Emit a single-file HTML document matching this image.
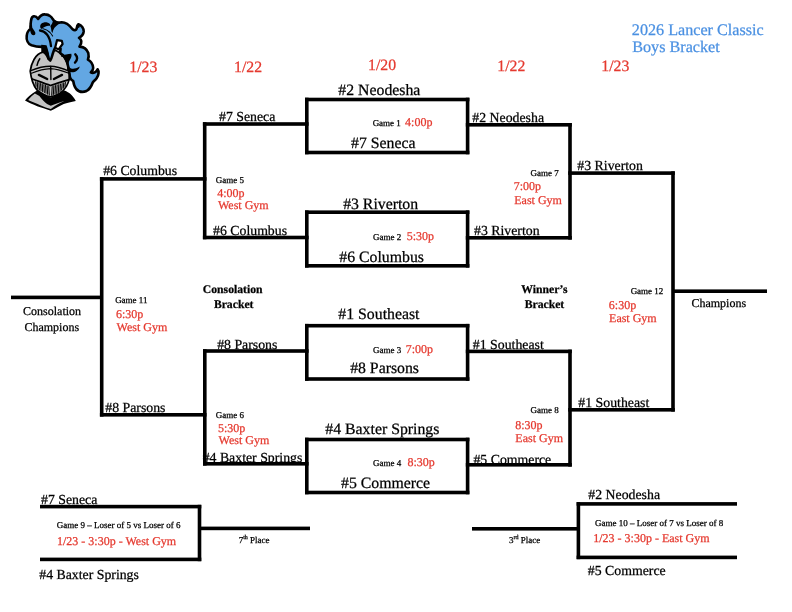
<!DOCTYPE html>
<html><head><meta charset="utf-8"><style>
html,body{margin:0;padding:0;background:#fff;width:792px;height:612px;overflow:hidden}
svg{position:absolute;left:0;top:0;display:block}
text{font-family:"Liberation Serif",serif;text-rendering:geometricPrecision}
svg{will-change:transform}
</style></head><body>
<svg width="792" height="612" viewBox="0 0 792 612">
<g id="logo" stroke-linejoin="round" stroke-linecap="round">
<path d="M25,100.5 C27,98 31,94 35,91.8 L37.9,90.2 C42,93 46,96 50.8,97.5 C55,96 60,92.5 64.4,90.6 C67,91.5 69,93 70.5,94.1 C72.5,96 74.5,98.5 75.8,100.9 C71,102 67,102.8 63.7,103.9 C59,106 55,108.5 50.8,110.8 C46,109 41,107.5 37.2,106.2 C33,104.5 28.5,102.5 25,100.5 Z" fill="#000"/>
<path d="M28.5,99.6 C30.5,97.3 32.5,95.3 34.9,93.6 C36.5,94.3 38,95.1 39.4,96 C41,98 42.5,100 44.7,102 C46.5,103.7 48.5,105 50.8,105.7 C55,104.2 60,102.2 64.4,101.1 C61,102.7 58,104.2 55.3,105.7 C53.5,107 52,108 50.8,109 C47.5,107.9 44,106.7 40.9,105.4 C36.5,103.6 32.5,101.6 28.5,100.2 Z" fill="#c3c3c3"/>
<path d="M30.2,71.1 C30.8,67 32,63 34,59.5 C36,56 39,53 43,52.2 L56,50.5 C60,52.5 63.5,56 65.5,59.5 C67.5,63 69.2,67 69.5,71.4 C69.6,74.5 69.5,77 69.1,79.6 C68.5,82 67.8,84 66.5,86.1 C64.8,89 62.5,91.5 60,93.3 C57,95.2 53.8,96.3 50.5,96.8 C46.5,96 42,94 37.1,90.1 C35,87.5 33.5,84.5 32.5,81.6 C31.5,78.5 30.8,75.5 30.2,71.1 Z" fill="#c4c4c4" stroke="#000" stroke-width="1.7"/>
<path d="M48.3,58.5 C47.5,53 46.5,49 43.9,46.8 C41,47 36,46.8 31.5,45.3 C27.8,43.8 26.2,39.5 26.7,35.8 C27,32.5 28.5,30 31,28.5 C30.5,25.5 30.5,22.5 31,20.8 C31.3,18.5 32.2,16.5 33.8,16.3 C35.3,16.1 36.8,17 38.2,19 C39,17.5 40,16.3 41,15.6 C42.5,14.6 44,14.3 45,14.4 C47,14.5 49,15.2 50,16 C51.5,17 52.5,18.5 52.8,19.2 C53.5,20 54,21 54.7,21 C56,22.8 59,22.8 61.6,22.3 C65,22.2 69,24.7 72.6,29.2 C74.5,30.7 76,30.4 76.6,28.7 C76.8,26.7 77.3,25 78.5,24.2 C81.5,25 83.8,28.2 83.7,31.4 C83.5,34 81.5,36.5 79,37.8 C81.5,39 82.5,42.5 79.5,46.6 C83.5,46.8 87,49.5 88.3,53 C89,56 88.5,58.5 87.9,59.6 C90.5,61 93,64.5 93.2,68 C93.2,70 92,71.2 90.8,72.4 C93.5,73.9 96.5,71.7 97.6,69.3 C99,71 99,75 96.8,77.9 C95,80.5 93,81.5 92.5,83 C91.5,86 89,89.5 86.5,91 C83,92.5 79,92 76.2,89 C74.5,87 73.5,83 73.2,80.9 C71,80 69.6,77 69.6,74.3 L69,71 C68,64 66,58 63,55.1 C61,54 60,53 60.1,52.6 L60.6,48.7 L55.2,47.7 C54,49.5 53.7,51.2 53,53 C52,56 51.5,59 50.3,60.5 Z" fill="#63a7e3" stroke="#000" stroke-width="2.6"/>
<path d="M61,55.6 C64,54.8 68,54 71.3,53.8 C72,56 71.2,58.3 69.8,60 C68.3,62 68.2,65.5 69.6,67.5 C71.5,69.3 75,69.3 79.8,66.5 C78.8,70 75.5,72.3 72,72.3 C69.5,72.1 68,71.2 67.2,70 L66.6,61 C65.2,58.5 63.2,56.8 61,56.5 Z" fill="#000"/>
<path d="M41.2,44.8 L46.5,45.2 C48,49 49,54 50.2,60 L47.5,59 C45.5,55 43.5,52.8 41.3,52.3 Z" fill="#000"/>
<path d="M55.2,47.6 L57,40.2 L61.8,40.8 L62.6,44 L58.6,49.4 Z" fill="#fff" stroke="#000" stroke-width="2.2"/>
<path d="M40.3,27.6 C39.8,24.5 41.5,22.6 44,22.4 C46.5,22.2 48.8,22.8 49.9,23.9 C50.4,24.6 50.1,25.6 49.3,25.9 C48,25.7 46.5,26.3 45,26.7 C43.5,27.2 42.6,28.3 42.1,29 C41.2,29 40.5,28.4 40.3,27.6 Z" fill="#000"/><path d="M53.2,20 C55,22.5 58,23 61.6,22.3 C59,23.8 56.5,25.5 54.5,27.8 C53.5,29.3 52.8,31 52.6,33 L51.5,31.5 C51.2,29.5 51,27.5 50.3,26 C51.8,24.5 52.6,22.5 53.2,20 Z" fill="#000"/>
<path d="M40,30.5 C42.5,30.8 45,32 47,34.5 C49,37 50.5,41 51,46.2" fill="none" stroke="#000" stroke-width="2.3"/><path d="M43.2,28.8 C45.5,29.3 48,30.5 50,32.5 C51.2,33.8 52,35 52.6,36" fill="none" stroke="#000" stroke-width="1.1"/>
<path d="M29.5,25 C31.5,27 33.8,29.5 35.2,32.2 C35.8,34 35,35.3 33.5,35.3 C32,35.2 31.2,34.2 30.8,33 C30.2,31 29.8,29 29.2,27.5 Z" fill="#000"/>
<path d="M75.3,54.3 C77.6,56.5 77.9,60 75,62.6" fill="none" stroke="#000" stroke-width="2.4"/>

<path d="M76.8,29 C77,26 77.5,25 78.5,24 L80,27 Z" fill="#000"/>
<g fill="none" stroke="#000">
<path d="M30.9,70.6 C37,68 44,66.2 50.5,66.2 C57,66.2 63,68.5 69.1,71.1" stroke-width="1.4"/>
<path d="M31.5,73.2 C38,70.5 44,68.8 50.5,68.6 C57,68.8 63,71 69,73.3" stroke-width="1.1"/>
<path d="M50.7,66.5 L50.9,79.5" stroke-width="1.4"/>
<path d="M38.9,74.9 L47.2,79" stroke-width="2.4"/>
<path d="M53.9,79 L62,74.9" stroke-width="2.4"/>
<path d="M32.2,79 C38,81 44,83.5 50.5,85.5 C57,83.5 63,81.5 69.1,79.6" stroke-width="1.8"/>
<path d="M37,65.3 C37.6,62.5 38.6,60.5 39.8,58.8" stroke-width="1.5"/>
<path d="M35.60,81.81 L36.10,86.33 M37.25,82.39 L37.75,89.17 M38.90,82.98 L39.40,90.00 M40.55,83.57 L41.05,90.82 M42.20,84.15 L42.70,91.65 M43.85,84.74 L44.35,92.47 M45.50,85.32 L46.00,93.30 M47.15,85.91 L47.65,94.12 M48.80,86.50 L49.30,94.95 M52.20,86.56 L51.70,95.17 M53.85,86.04 L53.35,94.57 M55.50,85.51 L55.00,93.96 M57.15,84.99 L56.65,93.35 M58.80,84.47 L58.30,92.74 M60.45,83.94 L59.95,91.80 M62.10,83.42 L61.60,89.97 M63.75,82.90 L63.25,88.15 M65.40,82.37 L64.90,86.32" stroke-width="1.05"/>
</g>
</g>

<g fill="#000">
<rect x="11.00" y="295.60" width="90.70" height="3.60"/><rect x="99.90" y="177.10" width="3.60" height="239.50"/><rect x="99.90" y="177.10" width="106.60" height="3.60"/><rect x="99.90" y="413.00" width="106.60" height="3.60"/><rect x="202.90" y="122.20" width="3.60" height="117.10"/><rect x="202.90" y="122.20" width="105.70" height="3.60"/><rect x="202.90" y="235.70" width="105.70" height="3.60"/><rect x="203.00" y="349.20" width="3.60" height="116.40"/><rect x="203.00" y="349.20" width="105.60" height="3.60"/><rect x="203.00" y="462.00" width="105.60" height="3.60"/><rect x="305.00" y="97.70" width="164.40" height="3.60"/><rect x="305.00" y="150.70" width="164.40" height="3.60"/><rect x="305.00" y="97.70" width="3.60" height="56.60"/><rect x="465.80" y="97.70" width="3.60" height="56.60"/><rect x="305.00" y="210.40" width="164.40" height="3.60"/><rect x="305.00" y="264.00" width="164.40" height="3.60"/><rect x="305.00" y="210.40" width="3.60" height="57.20"/><rect x="465.80" y="210.40" width="3.60" height="57.20"/><rect x="305.00" y="323.90" width="164.40" height="3.60"/><rect x="305.00" y="377.20" width="164.40" height="3.60"/><rect x="305.00" y="323.90" width="3.60" height="56.90"/><rect x="465.80" y="323.90" width="3.60" height="56.90"/><rect x="305.00" y="437.70" width="164.40" height="3.60"/><rect x="305.00" y="490.70" width="164.40" height="3.60"/><rect x="305.00" y="437.70" width="3.60" height="56.60"/><rect x="465.80" y="437.70" width="3.60" height="56.60"/><rect x="568.20" y="123.00" width="3.60" height="116.60"/><rect x="465.80" y="123.00" width="106.00" height="3.60"/><rect x="465.80" y="236.00" width="106.00" height="3.60"/><rect x="568.20" y="349.60" width="3.60" height="117.00"/><rect x="465.80" y="349.60" width="106.00" height="3.60"/><rect x="465.80" y="463.00" width="106.00" height="3.60"/><rect x="671.20" y="171.30" width="3.60" height="240.30"/><rect x="568.20" y="171.30" width="106.60" height="3.60"/><rect x="568.20" y="408.00" width="106.60" height="3.60"/><rect x="673.00" y="289.40" width="94.00" height="3.60"/><rect x="40.00" y="504.80" width="161.30" height="3.60"/><rect x="40.00" y="557.60" width="161.30" height="3.60"/><rect x="197.70" y="504.80" width="3.60" height="56.40"/><rect x="199.50" y="526.60" width="110.50" height="3.60"/><rect x="576.60" y="502.10" width="160.40" height="3.60"/><rect x="576.60" y="555.60" width="160.40" height="3.60"/><rect x="576.60" y="502.10" width="3.60" height="57.10"/><rect x="472.00" y="527.00" width="106.40" height="3.60"/>
</g>
<g>
<text x="129.24" y="71.90" font-size="15.8" font-weight="400" fill="#e5392f" stroke="#e5392f" stroke-width="0.25">1/23</text>
<text x="234.04" y="72.00" font-size="15.8" font-weight="400" fill="#e5392f" stroke="#e5392f" stroke-width="0.25">1/22</text>
<text x="368.04" y="70.00" font-size="15.8" font-weight="400" fill="#e5392f" stroke="#e5392f" stroke-width="0.25">1/20</text>
<text x="497.24" y="71.20" font-size="15.8" font-weight="400" fill="#e5392f" stroke="#e5392f" stroke-width="0.25">1/22</text>
<text x="601.24" y="71.20" font-size="15.8" font-weight="400" fill="#e5392f" stroke="#e5392f" stroke-width="0.25">1/23</text>
<text x="631.85" y="34.90" font-size="16.15" font-weight="400" fill="#4a90e2" stroke="#4a90e2" stroke-width="0.25">2026 Lancer Classic</text>
<text x="632.28" y="51.90" font-size="16.15" font-weight="400" fill="#4a90e2" stroke="#4a90e2" stroke-width="0.25">Boys Bracket</text>
<text x="338.34" y="94.80" font-size="15.8" font-weight="400" fill="#000" stroke="#000" stroke-width="0.25">#2 Neodesha</text>
<text x="351.04" y="147.80" font-size="15.8" font-weight="400" fill="#000" stroke="#000" stroke-width="0.25">#7 Seneca</text>
<text x="343.14" y="208.60" font-size="15.8" font-weight="400" fill="#000" stroke="#000" stroke-width="0.25">#3 Riverton</text>
<text x="339.24" y="261.60" font-size="15.8" font-weight="400" fill="#000" stroke="#000" stroke-width="0.25">#6 Columbus</text>
<text x="338.34" y="319.40" font-size="15.8" font-weight="400" fill="#000" stroke="#000" stroke-width="0.25">#1 Southeast</text>
<text x="350.14" y="373.40" font-size="15.8" font-weight="400" fill="#000" stroke="#000" stroke-width="0.25">#8 Parsons</text>
<text x="325.34" y="434.30" font-size="15.8" font-weight="400" fill="#000" stroke="#000" stroke-width="0.25">#4 Baxter Springs</text>
<text x="341.04" y="487.50" font-size="15.8" font-weight="400" fill="#000" stroke="#000" stroke-width="0.25">#5 Commerce</text>
<text x="372.64" y="125.90" font-size="9" font-weight="400" fill="#000" stroke="#000" stroke-width="0.25">Game 1</text>
<text x="372.94" y="240.00" font-size="9" font-weight="400" fill="#000" stroke="#000" stroke-width="0.25">Game 2</text>
<text x="372.94" y="353.00" font-size="9" font-weight="400" fill="#000" stroke="#000" stroke-width="0.25">Game 3</text>
<text x="373.04" y="466.10" font-size="9" font-weight="400" fill="#000" stroke="#000" stroke-width="0.25">Game 4</text>
<text x="405.08" y="125.90" font-size="12" font-weight="400" fill="#e5392f" stroke="#e5392f" stroke-width="0.25">4:00p</text>
<text x="406.70" y="240.00" font-size="12" font-weight="400" fill="#e5392f" stroke="#e5392f" stroke-width="0.25">5:30p</text>
<text x="405.68" y="353.00" font-size="12" font-weight="400" fill="#e5392f" stroke="#e5392f" stroke-width="0.25">7:00p</text>
<text x="407.44" y="466.10" font-size="12" font-weight="400" fill="#e5392f" stroke="#e5392f" stroke-width="0.25">8:30p</text>
<text x="103.16" y="175.00" font-size="13.8" font-weight="400" fill="#000" stroke="#000" stroke-width="0.25">#6 Columbus</text>
<text x="105.26" y="412.30" font-size="13.8" font-weight="400" fill="#000" stroke="#000" stroke-width="0.25">#8 Parsons</text>
<text x="219.06" y="120.80" font-size="13.8" font-weight="400" fill="#000" stroke="#000" stroke-width="0.25">#7 Seneca</text>
<text x="213.06" y="234.70" font-size="13.8" font-weight="400" fill="#000" stroke="#000" stroke-width="0.25">#6 Columbus</text>
<text x="217.16" y="348.50" font-size="13.8" font-weight="400" fill="#000" stroke="#000" stroke-width="0.25">#8 Parsons</text>
<text x="202.66" y="461.50" font-size="13.8" font-weight="400" fill="#000" stroke="#000" stroke-width="0.25">#4 Baxter Springs</text>
<text x="472.36" y="121.80" font-size="13.8" font-weight="400" fill="#000" stroke="#000" stroke-width="0.25">#2 Neodesha</text>
<text x="474.06" y="234.50" font-size="13.8" font-weight="400" fill="#000" stroke="#000" stroke-width="0.25">#3 Riverton</text>
<text x="472.86" y="348.80" font-size="13.8" font-weight="400" fill="#000" stroke="#000" stroke-width="0.25">#1 Southeast</text>
<text x="473.46" y="463.90" font-size="13.8" font-weight="400" fill="#000" stroke="#000" stroke-width="0.25">#5 Commerce</text>
<text x="577.36" y="170.40" font-size="13.8" font-weight="400" fill="#000" stroke="#000" stroke-width="0.25">#3 Riverton</text>
<text x="578.36" y="407.40" font-size="13.8" font-weight="400" fill="#000" stroke="#000" stroke-width="0.25">#1 Southeast</text>
<text x="215.84" y="182.90" font-size="9" font-weight="400" fill="#000" stroke="#000" stroke-width="0.25">Game 5</text>
<text x="217.18" y="196.50" font-size="12" font-weight="400" fill="#e5392f" stroke="#e5392f" stroke-width="0.25">4:00p</text>
<text x="218.00" y="209.40" font-size="12" font-weight="400" fill="#e5392f" stroke="#e5392f" stroke-width="0.25">West Gym</text>
<text x="215.84" y="417.50" font-size="9" font-weight="400" fill="#000" stroke="#000" stroke-width="0.25">Game 6</text>
<text x="218.00" y="431.90" font-size="12" font-weight="400" fill="#e5392f" stroke="#e5392f" stroke-width="0.25">5:30p</text>
<text x="218.60" y="444.00" font-size="12" font-weight="400" fill="#e5392f" stroke="#e5392f" stroke-width="0.25">West Gym</text>
<text x="115.14" y="302.50" font-size="9" font-weight="400" fill="#000" stroke="#000" stroke-width="0.25">Game 11</text>
<text x="116.02" y="318.20" font-size="12" font-weight="400" fill="#e5392f" stroke="#e5392f" stroke-width="0.25">6:30p</text>
<text x="116.60" y="330.50" font-size="12" font-weight="400" fill="#e5392f" stroke="#e5392f" stroke-width="0.25">West Gym</text>
<text x="530.44" y="175.90" font-size="9" font-weight="400" fill="#000" stroke="#000" stroke-width="0.25">Game 7</text>
<text x="513.78" y="190.30" font-size="12" font-weight="400" fill="#e5392f" stroke="#e5392f" stroke-width="0.25">7:00p</text>
<text x="514.26" y="203.50" font-size="12" font-weight="400" fill="#e5392f" stroke="#e5392f" stroke-width="0.25">East Gym</text>
<text x="530.44" y="412.90" font-size="9" font-weight="400" fill="#000" stroke="#000" stroke-width="0.25">Game 8</text>
<text x="515.24" y="429.00" font-size="12" font-weight="400" fill="#e5392f" stroke="#e5392f" stroke-width="0.25">8:30p</text>
<text x="515.36" y="441.90" font-size="12" font-weight="400" fill="#e5392f" stroke="#e5392f" stroke-width="0.25">East Gym</text>
<text x="630.64" y="293.90" font-size="9" font-weight="400" fill="#000" stroke="#000" stroke-width="0.25">Game 12</text>
<text x="608.82" y="309.00" font-size="12" font-weight="400" fill="#e5392f" stroke="#e5392f" stroke-width="0.25">6:30p</text>
<text x="609.06" y="321.60" font-size="12" font-weight="400" fill="#e5392f" stroke="#e5392f" stroke-width="0.25">East Gym</text>
<text x="202.83" y="292.70" font-size="11.7" font-weight="700" fill="#000" stroke="#000" stroke-width="0.25">Consolation</text>
<text x="213.88" y="307.60" font-size="11.7" font-weight="700" fill="#000" stroke="#000" stroke-width="0.25">Bracket</text>
<text x="521.28" y="293.20" font-size="11.7" font-weight="700" fill="#000" stroke="#000" stroke-width="0.25">Winner’s</text>
<text x="524.68" y="308.00" font-size="11.7" font-weight="700" fill="#000" stroke="#000" stroke-width="0.25">Bracket</text>
<text x="23.12" y="315.00" font-size="12" font-weight="400" fill="#000" stroke="#000" stroke-width="0.25">Consolation</text>
<text x="24.42" y="330.90" font-size="12" font-weight="400" fill="#000" stroke="#000" stroke-width="0.25">Champions</text>
<text x="691.42" y="306.80" font-size="12" font-weight="400" fill="#000" stroke="#000" stroke-width="0.25">Champions</text>
<text x="41.06" y="503.60" font-size="13.8" font-weight="400" fill="#000" stroke="#000" stroke-width="0.25">#7 Seneca</text>
<text x="56.74" y="528.20" font-size="9" font-weight="400" fill="#000" stroke="#000" stroke-width="0.25">Game 9 – Loser of 5 vs Loser of 6</text>
<text x="57.04" y="544.50" font-size="12" font-weight="400" fill="#e5392f" stroke="#e5392f" stroke-width="0.25">1/23 - 3:30p - West Gym</text>
<text x="39.26" y="578.60" font-size="13.8" font-weight="400" fill="#000" stroke="#000" stroke-width="0.25">#4 Baxter Springs</text>
<text x="588.36" y="499.30" font-size="13.8" font-weight="400" fill="#000" stroke="#000" stroke-width="0.25">#2 Neodesha</text>
<text x="594.94" y="525.50" font-size="9" font-weight="400" fill="#000" stroke="#000" stroke-width="0.25">Game 10 – Loser of 7 vs Loser of 8</text>
<text x="593.24" y="542.00" font-size="12" font-weight="400" fill="#e5392f" stroke="#e5392f" stroke-width="0.25">1/23 - 3:30p - East Gym</text>
<text x="587.86" y="575.00" font-size="13.8" font-weight="400" fill="#000" stroke="#000" stroke-width="0.25">#5 Commerce</text>
<text x="238.7" y="542.6" font-size="9" stroke="#000" stroke-width="0.25">7<tspan font-size="6" dy="-4">th</tspan><tspan dy="4"> Place</tspan></text>
<text x="509" y="542.9" font-size="9" stroke="#000" stroke-width="0.25">3<tspan font-size="6" dy="-4">rd</tspan><tspan dy="4"> Place</tspan></text>
</g>
</svg>
</body></html>
